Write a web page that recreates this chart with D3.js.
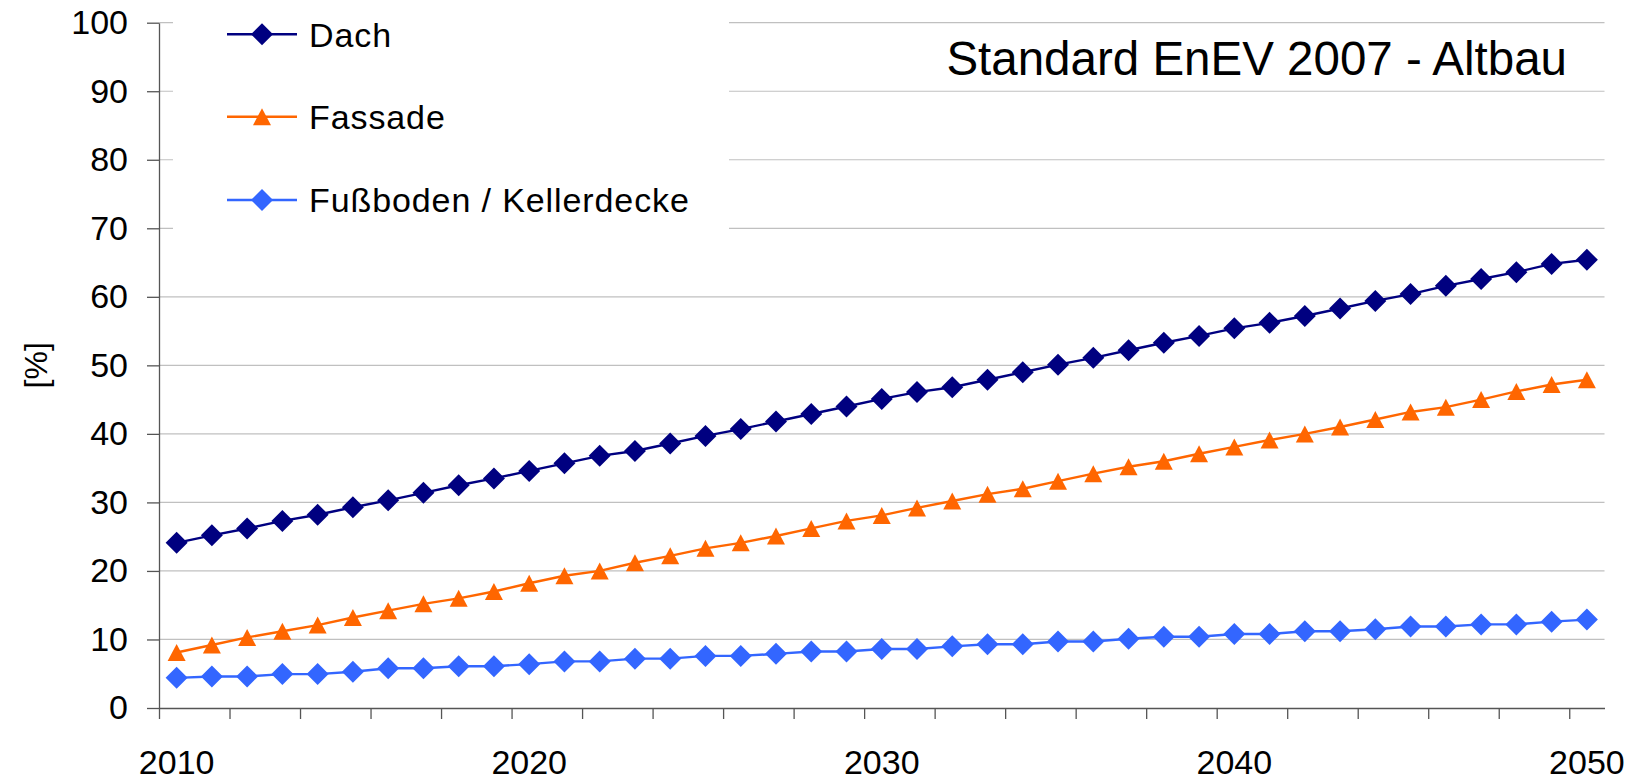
<!DOCTYPE html>
<html>
<head>
<meta charset="utf-8">
<script src="https://cdn.jsdelivr.net/npm/d3@7"></script>
<style>
  html, body { margin: 0; padding: 0; background: #fff; }
  svg text { font-family: "Liberation Sans", Arial, Helvetica, sans-serif; fill: #000; }
</style>
</head>
<body>
<svg id="chart" width="1634" height="782"></svg>
<script>
// ---- data ----
const years = d3.range(2010, 2051);
const xTickLabels = [2010, 2020, 2030, 2040, 2050];
const yTicks = [0, 10, 20, 30, 40, 50, 60, 70, 80, 90, 100];
const seriesNames = ["Dach", "Fassade", "Fußboden / Kellerdecke"];
const dach = [24.1, 25.2, 26.2, 27.3, 28.2, 29.3, 30.3, 31.4, 32.5, 33.5, 34.6, 35.7, 36.8, 37.5, 38.6, 39.7, 40.7, 41.8, 42.9, 44.0, 45.1, 46.1, 46.8, 47.9, 49.0, 50.1, 51.1, 52.2, 53.3, 54.3, 55.4, 56.2, 57.2, 58.3, 59.4, 60.4, 61.6, 62.6, 63.6, 64.8, 65.4];
const fassade = [8.1, 9.2, 10.3, 11.2, 12.1, 13.2, 14.2, 15.2, 16.0, 17.0, 18.2, 19.3, 20.0, 21.2, 22.2, 23.3, 24.1, 25.1, 26.2, 27.3, 28.1, 29.2, 30.2, 31.2, 32.0, 33.1, 34.2, 35.2, 36.0, 37.1, 38.1, 39.1, 40.0, 41.0, 42.1, 43.2, 43.9, 45.0, 46.2, 47.2, 47.9];
const boden = [4.4, 4.6, 4.6, 4.95, 4.95, 5.3, 5.8, 5.8, 6.1, 6.1, 6.4, 6.8, 6.8, 7.2, 7.2, 7.6, 7.6, 7.9, 8.25, 8.25, 8.6, 8.6, 9.0, 9.3, 9.3, 9.7, 9.7, 10.1, 10.4, 10.4, 10.8, 10.8, 11.2, 11.2, 11.5, 11.9, 11.9, 12.2, 12.2, 12.6, 12.9];
const titleText = "Standard EnEV 2007 - Altbau";
const yLabel = "[%]";

// ---- layout ----
const svg = d3.select("#chart");
const pLeft = 159, pRight = 1604.5, pTop = 22.7, pBottom = 708;
const fs = 34;

const x = d3.scaleBand().domain(years).range([pLeft, pRight]).padding(0);
const xb = d3.scaleLinear().domain([0, years.length]).range([pLeft, pRight]);
const y = d3.scaleLinear().domain([0, 100]).range([pBottom, pTop]);

const series = [
  { name: seriesNames[0], values: dach, color: "#000080", marker: "diamond" },
  { name: seriesNames[1], values: fassade, color: "#FF6600", marker: "triangle" },
  { name: seriesNames[2], values: boden, color: "#3366FF", marker: "diamond" }
];

// gridlines
svg.append("g").selectAll("line").data(yTicks.filter(d => d > 0)).join("line")
  .attr("x1", pLeft).attr("x2", pRight)
  .attr("y1", d => y(d)).attr("y2", d => y(d))
  .attr("stroke", "#c0c0c0").attr("stroke-width", 1.2);

// legend background box (covers gridlines)
svg.append("rect").attr("x", 173).attr("y", 6).attr("width", 556).attr("height", 228).attr("fill", "#fff");

// y axis
const yAxis = svg.append("g").attr("transform", `translate(${pLeft},0)`)
  .call(d3.axisLeft(y).tickValues(yTicks).tickSize(12).tickPadding(19).tickSizeOuter(0));
yAxis.select(".domain").attr("stroke", "#555").attr("stroke-width", 1.3);
yAxis.selectAll(".tick line").attr("stroke", "#555").attr("stroke-width", 1.3);
yAxis.selectAll("text").attr("font-size", fs).style("font-family", "'Liberation Sans', Arial, sans-serif").attr("fill", "#000");

// x axis: ticks at category boundaries every 2 categories
const xTickAxis = svg.append("g").attr("transform", `translate(0,${pBottom})`)
  .call(d3.axisBottom(xb).tickValues(d3.range(0, years.length, 2)).tickSize(11).tickFormat("").tickSizeOuter(0));
xTickAxis.select(".domain").attr("stroke", "#555").attr("stroke-width", 1.3);
xTickAxis.selectAll(".tick line").attr("stroke", "#555").attr("stroke-width", 1.3);

// x axis labels
const xLabAxis = svg.append("g").attr("transform", `translate(0,${pBottom})`)
  .call(d3.axisBottom(x).tickValues(xTickLabels).tickSize(0).tickPadding(42));
xLabAxis.select(".domain").remove();
xLabAxis.selectAll("text").attr("font-size", fs).style("font-family", "'Liberation Sans', Arial, sans-serif").attr("fill", "#000");

// y label
svg.append("text")
  .attr("transform", `translate(47,${(pTop + pBottom) / 2}) rotate(-90)`)
  .attr("text-anchor", "middle")
  .attr("font-size", 32)
  .text(yLabel);

// markers
const diamondPath = r => `M0,${-r}L${r},0L0,${r}L${-r},0Z`;
const trianglePath = (w, h) => `M0,${-h / 2}L${w / 2},${h / 2}L${-w / 2},${h / 2}Z`;
function markerPath(type) {
  return type === "diamond" ? diamondPath(11) : trianglePath(18, 17);
}

const line = d3.line().x((d, i) => x(years[i]) + x.bandwidth() / 2).y(d => y(d));

series.forEach(s => {
  const g = svg.append("g");
  g.append("path").datum(s.values).attr("d", line)
    .attr("fill", "none").attr("stroke", s.color).attr("stroke-width", 2.4);
  g.selectAll("path.m").data(s.values).join("path").attr("class", "m")
    .attr("transform", (d, i) => `translate(${x(years[i]) + x.bandwidth() / 2},${y(d)})`)
    .attr("d", markerPath(s.marker))
    .attr("fill", s.color);
});

// legend
const legY = [34.3, 116.7, 200];
series.forEach((s, i) => {
  const g = svg.append("g").attr("transform", `translate(0,${legY[i]})`);
  g.append("line").attr("x1", 227).attr("x2", 297).attr("y1", 0).attr("y2", 0)
    .attr("stroke", s.color).attr("stroke-width", 2.4);
  g.append("path").attr("transform", "translate(262,0)").attr("d", markerPath(s.marker)).attr("fill", s.color);
  g.append("text").attr("x", 309).attr("y", 12.2).attr("font-size", fs)
    .attr("letter-spacing", 0.9).text(s.name);
});

// title
svg.append("text").attr("x", 1567).attr("y", 75).attr("text-anchor", "end")
  .attr("font-size", 47.5).text(titleText);
</script>
</body>
</html>
